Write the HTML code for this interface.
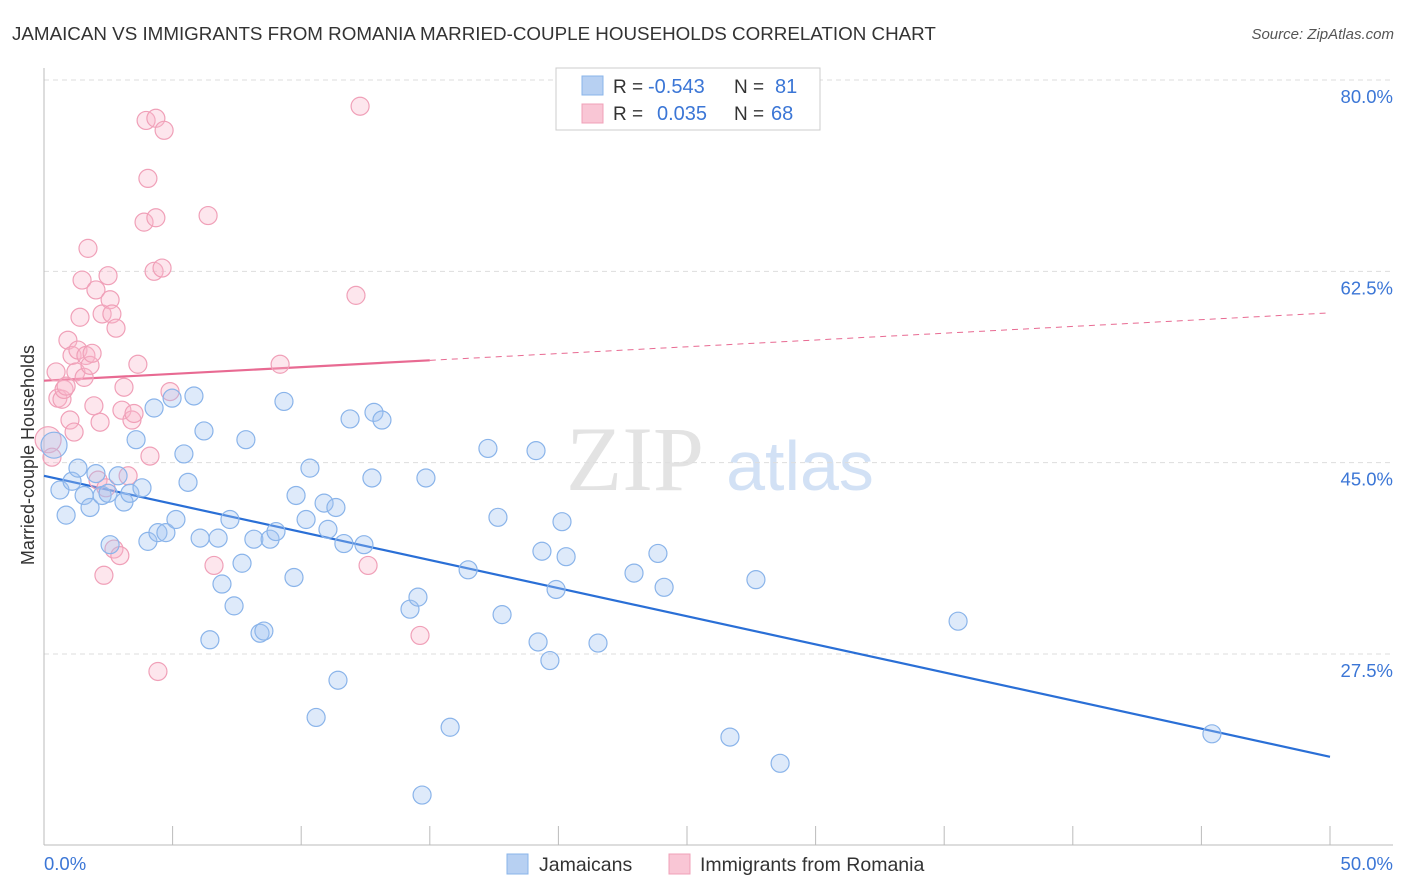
<!DOCTYPE html>
<html><head><meta charset="utf-8">
<style>
body{margin:0;background:#fff;font-family:"Liberation Sans",sans-serif;}
svg{display:block}
</style></head>
<body>
<svg id="chart" width="1406" height="892" viewBox="0 0 1406 892" xmlns="http://www.w3.org/2000/svg">
<text x="12" y="40" font-size="18.8" fill="#333">JAMAICAN VS IMMIGRANTS FROM ROMANIA MARRIED-COUPLE HOUSEHOLDS CORRELATION CHART</text>
<text x="1394" y="39" font-size="15" fill="#555" font-style="italic" text-anchor="end">Source: ZipAtlas.com</text>
<g>
<text x="635" y="490" font-size="92" fill="#ddd" font-family="Liberation Serif,serif" text-anchor="middle" opacity="0.8">ZIP</text>
<text x="800" y="490" font-size="70" fill="#c8daf3" text-anchor="middle" opacity="0.8">atlas</text>
</g>
<g id="grid"></g>
<g id="axes"></g>
<g id="trend"></g>
<g id="pts"></g>
<text x="28" y="455" font-size="18" fill="#333" text-anchor="middle" transform="rotate(-90 28 455)" dy="6">Married-couple Households</text>
<g>
<rect x="556" y="68" width="264" height="62" fill="#fff" stroke="#ccc"/>
<rect x="582" y="76" width="21" height="19" fill="#b7d0f2" stroke="#8ab4ea"/>
<rect x="582" y="104" width="21" height="19" fill="#f9c6d5" stroke="#f0a0b8"/>
<text x="613" y="93" font-size="19" fill="#333">R =</text>
<text x="648" y="93" font-size="20" fill="#3b76d6">-0.543</text>
<text x="734" y="93" font-size="19" fill="#333">N =</text>
<text x="775" y="93" font-size="20" fill="#3b76d6">81</text>
<text x="613" y="120" font-size="19" fill="#333">R =</text>
<text x="657" y="120" font-size="20" fill="#3b76d6">0.035</text>
<text x="734" y="120" font-size="19" fill="#333">N =</text>
<text x="771" y="120" font-size="20" fill="#3b76d6">68</text>
</g>
<g>
<rect x="507" y="854" width="21" height="20" fill="#b7d0f2" stroke="#8ab4ea"/>
<text x="539" y="871" font-size="19.5" fill="#333">Jamaicans</text>
<rect x="669" y="854" width="21" height="20" fill="#f9c6d5" stroke="#f0a0b8"/>
<text x="700" y="871" font-size="19.5" fill="#333">Immigrants from Romania</text>
</g>
</svg>
<script>
const yTicks=[80,62.5,45,27.5];
const yTickLabels=["80.0%","62.5%","45.0%","27.5%"];
const xEnds=[0,50];
const xEndLabels=["0.0%","50.0%"];
const blueX=[0.39,0.62,0.86,1.09,1.32,1.56,1.79,2.02,2.26,2.49,2.57,2.88,3.11,3.34,3.58,3.81,4.04,4.28,4.43,4.74,4.98,5.13,5.44,5.60,5.83,6.07,6.22,6.45,6.77,6.92,7.23,7.39,7.70,7.85,8.16,8.40,8.55,8.79,9.02,9.33,9.72,9.80,10.19,10.34,10.58,10.89,11.04,11.35,11.43,11.66,11.90,12.44,12.75,12.83,13.14,14.23,14.54,14.70,14.85,15.79,16.49,17.26,17.65,17.81,19.13,19.21,19.36,19.67,19.91,20.14,20.30,21.54,22.94,23.87,24.11,26.67,27.68,28.62,35.54,45.41];
const blueY=[46.6,42.5,40.2,43.3,44.5,42.0,40.9,44.0,42.0,42.2,37.5,43.8,41.4,42.2,47.1,42.7,37.8,50.0,38.6,38.6,50.9,39.8,45.8,43.2,51.1,38.1,47.9,28.8,38.1,33.9,39.8,31.9,35.8,47.1,38.0,29.4,29.6,38.0,38.7,50.6,34.5,42.0,39.8,44.5,21.7,41.3,38.9,40.9,25.1,37.6,49.0,37.5,43.6,49.6,48.9,31.6,32.7,14.6,43.6,20.8,35.2,46.3,40.0,31.1,46.1,28.6,36.9,26.9,33.4,39.6,36.4,28.5,34.9,36.7,33.6,19.9,34.3,17.5,30.5,20.2];
const pinkX=[0.16,0.31,0.47,0.54,0.70,0.78,0.86,0.93,1.01,1.09,1.17,1.24,1.32,1.40,1.48,1.56,1.63,1.71,1.79,1.87,1.94,2.02,2.10,2.18,2.26,2.33,2.41,2.49,2.57,2.64,2.72,2.80,2.95,3.11,3.03,3.27,3.42,3.50,3.65,3.89,4.04,3.97,4.12,4.28,4.35,4.35,4.43,4.59,4.67,4.90,6.38,6.61,9.18,12.13,12.29,12.60,14.62];
const pinkY=[47.1,45.5,53.3,50.9,50.8,51.7,52.0,56.2,48.9,54.8,47.8,53.3,55.3,58.3,61.7,52.8,54.8,64.6,53.9,55.0,50.2,60.8,43.4,48.7,58.6,34.7,42.7,62.1,59.9,58.6,37.1,57.3,36.5,51.9,49.8,43.8,48.9,49.5,54.0,67.0,71.0,76.3,45.6,62.5,67.4,76.5,25.9,62.8,75.4,51.5,67.6,35.6,54.0,60.3,77.6,35.6,29.2];
const blueTrend=[43.8,18.1];
const pinkTrend=[52.5,58.7];
const pinkSolidEnd=15.0;

const NS="http://www.w3.org/2000/svg";
const X0=44,X1=1330,Y80=80,Y275=654;
function sx(v){return X0+(v-xEnds[0])/(xEnds[1]-xEnds[0])*(X1-X0);}
function sy(v){return Y80+(80-v)/(80-27.5)*(Y275-Y80);}
function mk(tag,attrs,parent){const e=document.createElementNS(NS,tag);for(const k in attrs)e.setAttribute(k,attrs[k]);parent.appendChild(e);return e;}
const grid=document.getElementById('grid'),axes=document.getElementById('axes'),trend=document.getElementById('trend'),pts=document.getElementById('pts');
yTicks.forEach((t,i)=>{
 const l=mk('line',{x1:X0,x2:1393,y1:sy(t),y2:sy(t),stroke:'#ddd','stroke-dasharray':'5,4'},grid);
 
 
 const tx=mk('text',{x:1393,y:sy(t)+23,'font-size':18.5,fill:'#3b76d6','text-anchor':'end'},grid);
 tx.textContent=yTickLabels[i];
 
 
});
const ya=mk('line',{x1:X0,x2:X0,y1:68,y2:845,stroke:'#bbb'},axes);


const xa=mk('line',{x1:X0,x2:1393,y1:845,y2:845,stroke:'#bbb'},axes);


for(let i=0;i<=10;i++){
 const v=xEnds[0]+i*(xEnds[1]-xEnds[0])/10;
 const tk=mk('line',{x1:sx(v),x2:sx(v),y1:826,y2:845,stroke:'#bbb'},axes);
 
 
}
xEnds.forEach((v,i)=>{
 const tx=mk('text',{x:i?sx(v)+63:sx(v),y:870,'font-size':18.5,fill:'#3b76d6','text-anchor':i?'end':'start'},axes);
 tx.textContent=xEndLabels[i];
 
 
});
function draw(xs,ys,fill,stroke,name){
 xs.forEach((x,i)=>{
  const r=(i===0)?13:9;
  const c=mk('circle',{cx:sx(x),cy:sy(ys[i]),r:r,fill:fill,stroke:stroke,'stroke-width':1.2},pts);
  
  
 });
}
draw(pinkX,pinkY,'rgba(248,182,202,0.35)','#f0a0b8','point-romania');
draw(blueX,blueY,'rgba(160,196,240,0.35)','#8ab4ea','point-jamaican');
const bl=mk('line',{x1:sx(0),y1:sy(blueTrend[0]),x2:sx(50),y2:sy(blueTrend[1]),stroke:'#2a6fd6','stroke-width':2.2},trend);


const pAt=x=>pinkTrend[0]+(pinkTrend[1]-pinkTrend[0])*x/50;
const ps=mk('line',{x1:sx(0),y1:sy(pAt(0)),x2:sx(pinkSolidEnd),y2:sy(pAt(pinkSolidEnd)),stroke:'#e86a92','stroke-width':2.2},trend);


const pd=mk('line',{x1:sx(pinkSolidEnd),y1:sy(pAt(pinkSolidEnd)),x2:sx(50),y2:sy(pAt(50)),stroke:'#e86a92','stroke-width':1,'stroke-dasharray':'6,5'},trend);


</script>
</body></html>
